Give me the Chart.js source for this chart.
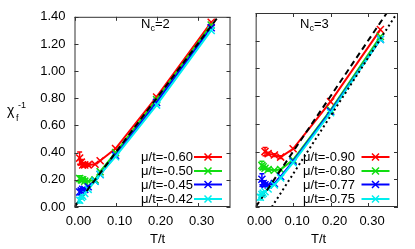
<!DOCTYPE html>
<html>
<head>
<meta charset="utf-8">
<script src="https://cdn.jsdelivr.net/npm/chart.js@4"></script>
<style>
body { margin: 0; background: #fff; overflow: hidden; }
#wrap { position: relative; width: 415px; height: 249px; font-family: "Liberation Sans", Arial, sans-serif; color: #000; }
canvas { position: absolute; top: 0; }
.txt { position: absolute; font-size: 13px; line-height: 16px; white-space: nowrap; }
.small { font-size: 9px; position: relative; }
</style>
</head>
<body>
<div id="wrap">
  <canvas id="left" width="237" height="249" style="left:0"></canvas>
  <canvas id="right" width="179" height="249" style="left:236px"></canvas>
</div>
<script>
// temperatures T/t
var tempsN2 = [0.0125, 0.0167, 0.02, 0.025, 0.0333, 0.05, 0.0625, 0.1, 0.2, 0.333];
var tempsN3 = [0.0125, 0.0167, 0.02, 0.025, 0.0333, 0.05, 0.0667, 0.1, 0.2, 0.333];

// axis ticks
var xTicks = [0, 0.1, 0.2, 0.3];
var yTicks = [0, 0.2, 0.4, 0.6, 0.8, 1.0, 1.2, 1.4];

// N_c = 2, inverse susceptibility
var muN2 = ['-0.60', '-0.50', '-0.45', '-0.42'];
var chiN2m060 = [0.36, 0.33, 0.31, 0.31, 0.31, 0.315, 0.34, 0.43, 0.81, 1.36];
var chiN2m050 = [0.21, 0.20, 0.20, 0.19, 0.19, 0.20, 0.26, 0.40, 0.79, 1.34];
var chiN2m045 = [0.11, 0.12, 0.13, 0.13, 0.15, 0.19, 0.24, 0.38, 0.77, 1.32];
var chiN2m042 = [0.05, 0.07, 0.08, 0.10, 0.13, 0.19, 0.24, 0.37, 0.75, 1.30];
var errN2m060 = [0.045, 0.02, 0.015, 0.01, 0.01, 0, 0, 0, 0, 0];
var errN2m050 = [0.02, 0.015, 0.01, 0.01, 0, 0, 0, 0, 0, 0];
var errN2m045 = [0.02, 0.015, 0.01, 0, 0, 0, 0, 0, 0, 0];
var errN2m042 = [0.02, 0.01, 0.01, 0, 0, 0, 0, 0, 0, 0];

// N_c = 3
var muN3 = ['-0.90', '-0.80', '-0.77', '-0.75'];
var chiN3m090 = [null, null, null, 0.40, 0.385, 0.375, 0.36, 0.42, 0.76, 1.28];
var chiN3m080 = [null, 0.30, 0.29, 0.28, 0.27, 0.265, 0.27, 0.34, 0.70, 1.23];
var chiN3m077 = [null, 0.20, 0.17, 0.16, 0.16, 0.17, 0.22, 0.33, 0.69, 1.21];
var chiN3m075 = [0.07, 0.09, 0.10, 0.11, 0.13, 0.16, 0.21, 0.32, 0.68, 1.21];
var errN3m090 = [0, 0, 0, 0.03, 0.01, 0.01, 0.01, 0, 0, 0];
var errN3m080 = [0, 0.03, 0.01, 0.01, 0.01, 0, 0, 0, 0, 0];
var errN3m077 = [0, 0.04, 0.02, 0.01, 0, 0, 0, 0, 0, 0];
var errN3m075 = [0.02, 0.01, 0.01, 0, 0, 0, 0, 0, 0, 0];

// reference lines
var curieT = [0, 0.35];
var curieChi = [0, 1.40];
var shiftT = [0.043, 0.38];
var shiftChi = [0, 1.41];

var colors = ['#ff0000', '#11dd11', '#0000ff', '#00eeee'];
var legendRowsY = [50, 36, 22.5, 8];

Chart.defaults.font.family = '"Liberation Sans", Arial, sans-serif';
Chart.defaults.font.size = 13;
Chart.defaults.color = '#000';

function pts(xs, ys) {
  var out = [];
  for (var i = 0; i < xs.length; i++) {
    if (ys[i] !== null) out.push({x: xs[i], y: ys[i]});
  }
  return out;
}
function errsOf(ys, es) {
  var out = [];
  for (var i = 0; i < ys.length; i++) {
    if (ys[i] !== null) out.push(es[i]);
  }
  return out;
}

function seriesSet(label, xs, ys, es, idx) {
  return {
    label: label,
    data: pts(xs, ys),
    errs: errsOf(ys, es),
    legendRow: idx,
    borderColor: colors[idx],
    backgroundColor: colors[idx],
    borderWidth: 2,
    pointStyle: 'crossRot',
    pointRadius: 5,
    pointBorderWidth: 1.5,
    order: 10 - idx,
    tension: 0
  };
}

function refSet(xs, ys, dash) {
  return {
    data: pts(xs, ys),
    borderColor: '#000',
    borderWidth: 2,
    borderDash: dash,
    pointRadius: 0,
    order: 1
  };
}

var frame = {
  id: 'frame',
  afterDatasetsDraw: function (chart) {
    var ctx = chart.ctx, a = chart.chartArea, ys = chart.scales.y;
    ctx.save();
    ctx.beginPath();
    ctx.rect(a.left, a.top, a.right - a.left, a.bottom - a.top);
    ctx.clip();
    chart.data.datasets.forEach(function (ds, i) {
      if (!ds.errs) return;
      var meta = chart.getDatasetMeta(i);
      ctx.strokeStyle = ds.borderColor;
      ctx.lineWidth = 1.5;
      meta.data.forEach(function (p, j) {
        var e = ds.errs[j];
        if (!e) return;
        var v = ds.data[j].y;
        var y1 = ys.getPixelForValue(v + e), y2 = ys.getPixelForValue(v - e);
        ctx.beginPath();
        ctx.moveTo(p.x, y1); ctx.lineTo(p.x, y2);
        ctx.moveTo(p.x - 2.5, y1); ctx.lineTo(p.x + 2.5, y1);
        ctx.moveTo(p.x - 2.5, y2); ctx.lineTo(p.x + 2.5, y2);
        ctx.stroke();
      });
    });
    ctx.restore();
  },
  afterDraw: function (chart) {
    var ctx = chart.ctx, a = chart.chartArea, xs = chart.scales.x, ys = chart.scales.y;
    ctx.save();
    ctx.strokeStyle = '#333';
    ctx.lineWidth = 1;
    ctx.strokeRect(a.left + 0.5, a.top + 0.5, a.right - a.left - 1, a.bottom - a.top - 1);
    ctx.beginPath();
    xs.ticks.forEach(function (t) {
      var px = Math.round(xs.getPixelForValue(t.value)) + 0.5;
      ctx.moveTo(px, a.bottom); ctx.lineTo(px, a.bottom - 4);
      ctx.moveTo(px, a.top); ctx.lineTo(px, a.top + 4);
    });
    ys.ticks.forEach(function (t) {
      var py = Math.round(ys.getPixelForValue(t.value)) + 0.5;
      ctx.moveTo(a.left, py); ctx.lineTo(a.left + 4, py);
      ctx.moveTo(a.right, py); ctx.lineTo(a.right - 4, py);
    });
    ctx.stroke();

    // legend samples
    chart.data.datasets.forEach(function (ds) {
      if (ds.legendRow === undefined) return;
      var y = a.bottom - legendRowsY[ds.legendRow];
      var x1 = a.right - 36.5, x2 = a.right - 8.5, xm = (x1 + x2) / 2;
      ctx.strokeStyle = ds.borderColor;
      ctx.lineWidth = 2;
      ctx.beginPath();
      ctx.moveTo(x1, y); ctx.lineTo(x2, y);
      ctx.stroke();
      ctx.lineWidth = 1.5;
      ctx.beginPath();
      ctx.moveTo(xm - 3.5, y - 3.5); ctx.lineTo(xm + 3.5, y + 3.5);
      ctx.moveTo(xm - 3.5, y + 3.5); ctx.lineTo(xm + 3.5, y - 3.5);
      ctx.stroke();
    });
    ctx.restore();
  }
};

function makeChart(id, datasets, yWidth, showY, padRight) {
  return new Chart(document.getElementById(id), {
    type: 'line',
    data: {datasets: datasets},
    options: {
      responsive: false,
      animation: false,
      devicePixelRatio: 1,
      layout: {padding: {top: 13, right: padRight, left: 0, bottom: 0}},
      plugins: {legend: {display: false}, tooltip: {enabled: false}},
      scales: {
        x: {
          type: 'linear',
          min: 0,
          max: 0.38,
          grid: {display: true, drawOnChartArea: false, drawTicks: false},
          border: {display: false},
          ticks: {
            padding: 7,
            labelOffset: 4,
            maxRotation: 0,
            autoSkip: false,
            callback: function (v) { return v.toFixed(2); }
          },
          afterBuildTicks: function (s) {
            s.ticks = xTicks.map(function (v) { return {value: v}; });
          },
          afterFit: function (s) { s.height = 42; }
        },
        y: {
          min: 0,
          max: 1.4,
          grid: {display: true, drawOnChartArea: false, drawTicks: false},
          border: {display: false},
          ticks: {
            display: showY,
            padding: 9,
            autoSkip: false,
            callback: function (v) { return v.toFixed(2); }
          },
          afterBuildTicks: function (s) {
            s.ticks = yTicks.map(function (v) { return {value: v}; });
          },
          afterFit: function (s) { s.width = yWidth; }
        }
      }
    },
    plugins: [frame]
  });
}

makeChart('left', [
  seriesSet('μ/t=' + muN2[0], tempsN2, chiN2m060, errN2m060, 0),
  seriesSet('μ/t=' + muN2[1], tempsN2, chiN2m050, errN2m050, 1),
  seriesSet('μ/t=' + muN2[2], tempsN2, chiN2m045, errN2m045, 2),
  seriesSet('μ/t=' + muN2[3], tempsN2, chiN2m042, errN2m042, 3),
  refSet(curieT, curieChi, [6, 4])
], 74.5, true, 0);

makeChart('right', [
  seriesSet('μ/t=' + muN3[0], tempsN3, chiN3m090, errN3m090, 0),
  seriesSet('μ/t=' + muN3[1], tempsN3, chiN3m080, errN3m080, 1),
  seriesSet('μ/t=' + muN3[2], tempsN3, chiN3m077, errN3m077, 2),
  seriesSet('μ/t=' + muN3[3], tempsN3, chiN3m075, errN3m075, 3),
  refSet(curieT, curieChi, [6, 4]),
  refSet(shiftT, shiftChi, [2, 3])
], 1, false, 17);

// text labels
var wrap = document.getElementById('wrap');
function addText(html, css) {
  var d = document.createElement('div');
  d.className = 'txt';
  d.innerHTML = html;
  for (var k in css) d.style[k] = css[k];
  wrap.appendChild(d);
}
addText('χ', {left: '7px', top: '102px', fontSize: '14px'});
addText('f', {left: '16px', top: '110px', fontSize: '9px'});
addText('-1', {left: '18px', top: '97px', fontSize: '9px'});
addText('N<span class="small" style="top:3px">c</span>=2', {left: '141px', top: '16px'});
addText('N<span class="small" style="top:3px">c</span>=3', {left: '300px', top: '16px'});
addText('T/t', {left: '150px', top: '231px'});
addText('T/t', {left: '311px', top: '231px'});
for (var i = 0; i < 4; i++) {
  addText('μ/t=' + muN2[i], {left: '0px', width: '193px', textAlign: 'right', top: (207 - legendRowsY[i] - 8) + 'px'});
  addText('μ/t=' + muN3[i], {left: '0px', width: '355px', textAlign: 'right', top: (207 - legendRowsY[i] - 8) + 'px'});
}
</script>
</body>
</html>
